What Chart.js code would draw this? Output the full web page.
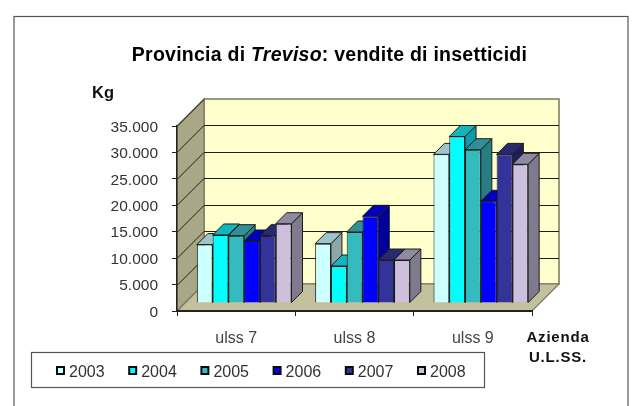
<!DOCTYPE html>
<html><head><meta charset="utf-8">
<style>html,body{margin:0;padding:0;background:#fff}canvas{display:block}</style>
<script src="https://cdn.jsdelivr.net/npm/chart.js@4"></script>
</head><body><canvas id="c" width="642" height="406"></canvas>
<script>
const categories = ['ulss 7', 'ulss 8', 'ulss 9'];
const years = ['2003', '2004', '2005', '2006', '2007', '2008'];
const v2003 = [11050, 11230, 28120];
const v2004 = [12870, 7000, 31500];
const v2005 = [12740, 13430, 29000];
const v2006 = [11730, 16400, 19240];
const v2007 = [12740, 8130, 28120];
const v2008 = [15000, 8130, 26240];
const seriesValues = [v2003, v2004, v2005, v2006, v2007, v2008];
const yTickLabels = ['0', '5.000', '10.000', '15.000', '20.000', '25.000', '30.000', '35.000'];
const faceColors = ['#CCFFFF', '#00FFFF', '#33BBC0', '#0000FF', '#333399', '#CCC0DC'];
const topColors = ['#9CC4CA', '#14B4BC', '#2F9098', '#0000B8', '#29296F', '#8F8AA0'];
const sideColors = ['#8CA6AA', '#0F9CA6', '#267E82', '#00009A', '#1E1E58', '#7F7A8E'];

const WALL = 27, OFF = 8, BAR = 11, EDGE = '#1c1c1c';
const FONT = '"Liberation Sans", Arial, sans-serif';

function poly(ctx, pts, fill, stroke, lw) {
  ctx.beginPath();
  pts.forEach((p, i) => i ? ctx.lineTo(p[0], p[1]) : ctx.moveTo(p[0], p[1]));
  ctx.closePath();
  if (fill) { ctx.fillStyle = fill; ctx.fill(); }
  if (stroke) { ctx.strokeStyle = stroke; ctx.lineWidth = lw || 1; ctx.stroke(); }
}

const scene = {
  id: 'scene',
  beforeDraw(chart) {
    const { ctx, chartArea: a, scales: { y } } = chart;
    ctx.save();
    ctx.fillStyle = '#fff';
    ctx.fillRect(0, 0, chart.width, chart.height);
    ctx.strokeStyle = '#555';
    ctx.lineWidth = 1.2;
    ctx.strokeRect(14, 16.5, 614, 395);
    const L = a.left, R = a.right, T = a.top, B = a.bottom, d = WALL;
    poly(ctx, [[L + d, T - d], [R + d, T - d], [R + d, B - d], [L + d, B - d]], '#FFFFCC', '#77775f', 1.5);
    poly(ctx, [[L, T], [L + d, T - d], [L + d, B - d], [L, B]], '#A9A886', '#77775f', 1.2);
    poly(ctx, [[L, B], [L + d, B - d], [R + d, B - d], [R, B]], '#C3C19D', '#77775f', 1.2);
    ctx.strokeStyle = '#1e1e1e';
    ctx.lineWidth = 1;
    y.ticks.forEach(t => {
      if (t.value === 0) return;
      const p = Math.round(y.getPixelForValue(t.value)) + 0.5;
      ctx.beginPath();
      ctx.moveTo(L, p);
      ctx.lineTo(L + d, p - d);
      if (t.value < y.max) ctx.lineTo(R + d, p - d);
      ctx.stroke();
    });
    ctx.restore();
  },
  beforeDatasetsDraw(chart) {
    // Depth faces first, left to right; the library then paints the front faces over them.
    const ctx = chart.ctx;
    ctx.save();
    ctx.translate(OFF, -OFF);
    chart.data.datasets.forEach((ds, i) => {
      chart.getDatasetMeta(i).data.forEach(b => {
        const r = b.x + b.width / 2, l = b.x - b.width / 2, t = b.y, s = b.base;
        poly(ctx, [[r, t], [r + BAR, t - BAR], [r + BAR, s - BAR], [r, s]], sideColors[i], EDGE, 1);
        poly(ctx, [[l, t], [l + BAR, t - BAR], [r + BAR, t - BAR], [r, t]], topColors[i], EDGE, 1);
      });
    });
    ctx.restore();
  },
  beforeDatasetDraw(chart) {
    chart.ctx.save();
    chart.ctx.translate(OFF, -OFF);
  },
  afterDatasetDraw(chart) {
    chart.ctx.restore();
  },
  afterDraw(chart) {
    const ctx = chart.ctx;
    ctx.save();
    ctx.textBaseline = 'alphabetic';
    const runs = [['bold 19.5px ' + FONT, 'Provincia di '], ['italic bold 19.5px ' + FONT, 'Treviso'], ['bold 19.5px ' + FONT, ': vendite di insetticidi']];
    ctx.letterSpacing = '0.25px';
    let w = 0;
    runs.forEach(r => { ctx.font = r[0]; w += ctx.measureText(r[1]).width; });
    let x = 329.5 - w / 2;
    ctx.fillStyle = '#000';
    ctx.textAlign = 'left';
    runs.forEach(r => { ctx.font = r[0]; ctx.fillText(r[1], x, 61); x += ctx.measureText(r[1]).width; });
    ctx.letterSpacing = '0px';
    ctx.font = 'bold 16.5px ' + FONT;
    ctx.fillStyle = '#111';
    ctx.fillText('Kg', 92, 98);
    ctx.textAlign = 'center';
    ctx.font = 'bold 15px ' + FONT;
    ctx.letterSpacing = '0.8px';
    ctx.fillText('Azienda', 558, 342);
    ctx.fillText('U.L.SS.', 558, 362);
    ctx.letterSpacing = '0px';
    ctx.strokeStyle = '#555';
    ctx.lineWidth = 1.2;
    ctx.strokeRect(31.5, 352.5, 453, 35);
    ctx.font = '16px ' + FONT;
    ctx.textAlign = 'left';
    years.forEach((yr, i) => {
      const lx = 57 + i * 72.2;
      ctx.fillStyle = faceColors[i];
      ctx.strokeStyle = '#0a0a0a';
      ctx.lineWidth = 2;
      ctx.fillRect(lx, 367, 7, 7);
      ctx.strokeRect(lx, 367, 7, 7);
      ctx.fillStyle = '#333';
      ctx.fillText(yr, lx + 12, 377);
    });
    ctx.restore();
  }
};

new Chart(document.getElementById('c'), {
  type: 'bar',
  data: {
    labels: categories,
    datasets: years.map((yr, i) => ({
      label: yr,
      data: seriesValues[i],
      backgroundColor: faceColors[i],
      borderColor: EDGE,
      borderWidth: 1,
      clip: false
    }))
  },
  options: {
    responsive: false,
    animation: false,
    events: [],
    layout: { padding: { top: 126, right: 110, left: 0, bottom: 0 } },
    plugins: { legend: { display: false }, title: { display: false }, tooltip: { enabled: false } },
    datasets: { bar: { categoryPercentage: 0.8, barPercentage: 1 } },
    scales: {
      x: {
        afterFit: s => { s.height = 95; },
        grid: { drawOnChartArea: false, drawTicks: true, tickLength: 5, tickColor: '#222', offset: true },
        border: { color: '#222', width: 2 },
        ticks: { padding: 13, maxRotation: 0, color: '#444', font: { family: FONT, size: 16 } }
      },
      y: {
        min: 0, max: 35000,
        afterFit: s => { s.width = 177; },
        grid: { drawOnChartArea: false, drawTicks: true, tickLength: 5, tickColor: '#222' },
        border: { color: '#222', width: 1.5 },
        ticks: {
          stepSize: 5000, padding: 14, color: '#333', labelOffset: 1.5,
          font: { family: FONT, size: 15.5 },
          callback: (v, i) => yTickLabels[i]
        }
      }
    }
  },
  plugins: [scene]
});
</script></body></html>
